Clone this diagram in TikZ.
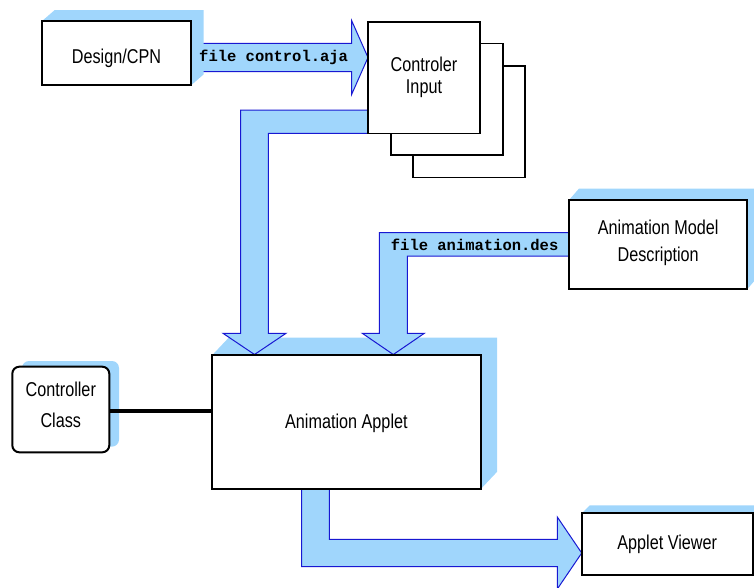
\documentclass[tikz,border=0pt]{standalone}
\usepackage{fontspec}
\setmainfont{Liberation Sans}[FakeStretch=0.81]
\newfontfamily\codefont{Liberation Mono}
\usetikzlibrary{calc}
\definecolor{flowfill}{RGB}{160,214,252}
\definecolor{flowline}{RGB}{24,24,210}
\pgfdeclarelayer{shadelayer}
\pgfdeclarelayer{flowlayer}
\pgfsetlayers{shadelayer,flowlayer,main}
\tikzset{
  box/.style={draw=black, line width=2pt, fill=white, inner sep=0pt, outer sep=0pt,
              align=center, font=\fontsize{20}{24}\selectfont},
  stackbox/.style={box, line width=1.6pt, minimum width=112, minimum height=111.6},
  blockarrow/.style={fill=flowfill, draw=flowline, line width=1pt, line join=miter},
  shade/.style={fill=flowfill},
  filelabel/.style={font=\codefont\bfseries\fontsize{15.5}{18}\selectfont, inner sep=0pt}
}
% 3D extrusion behind a box: node name, dx, dy (upwards)
\newcommand\extrudebox[3]{%
  \fill[shade] (#1.north west) -- ($(#1.north west)+(#2,-#3)$)
    -- ($(#1.north east)+(#2,-#3)$) -- ($(#1.south east)+(#2,-#3)$)
    -- (#1.south east) -- cycle;}
% text shifted vertically by #1 while keeping its size
\newcommand\shiftby[2]{\raisebox{#1}[\height][\depth]{#2}}
% two centred lines, shifted by #1
\newcommand\twolines[3]{\shiftby{#1}{\begin{tabular}{@{}c@{}}#2\\#3\end{tabular}}}
\begin{document}
\begin{tikzpicture}[x=1pt,y=-1pt]
\useasboundingbox (0,0) rectangle (754,587);

% boxes
\node[box, minimum width=149, minimum height=64.3] (design) at (116.5,53.2) {\shiftby{-5pt}{Design/CPN}};
\node[stackbox] (ctlC) at (468.7,121.8) {};
\node[stackbox] (ctlB) at (446.7,99.2) {};
\node[stackbox, font=\fontsize{20}{22}\selectfont] (ctlA) at (424,77.5) {\twolines{-1pt}{Controler}{Input}};
\node[box, minimum width=178.3, minimum height=89, font=\fontsize{20}{27}\selectfont]
  (model) at (658.2,244.5) {\twolines{2pt}{Animation Model}{Description}};
\node[box, minimum width=268.2, minimum height=134.3] (applet) at (346.4,422.2) {\shiftby{-1pt}{Animation Applet}};
\node[box, minimum width=171, minimum height=61.7] (viewer) at (667.2,544.2) {Applet Viewer};
\node[box, rounded corners=7pt, minimum width=97, minimum height=85.6,
      font=\fontsize{20}{31}\selectfont] (ctrlclass) at (60.8,409.5) {\twolines{4pt}{Controller}{Class}};

% link between controller class and applet
\coordinate (lk) at (0,411);
\draw[line width=3.5pt] (ctrlclass.east |- lk) -- (applet.west |- lk);

\begin{pgfonlayer}{shadelayer}
  % file control.aja flow, partly hidden by the Design/CPN extrusion
  \draw[blockarrow] (195,43.3) -- (351.7,43.3) -- (351.7,20.7) -- (ctlA.west |- 0,57.5)
    -- (351.7,94.3) -- (351.7,71.7) -- (195,71.7) -- cycle;
  \extrudebox{design}{12.7}{11}
  \extrudebox{model}{10}{11.5}
  \extrudebox{applet}{16.5}{17.5}
  \extrudebox{viewer}{8}{8}
  \fill[shade, rounded corners=7pt] ($(ctrlclass.north west)+(9.7,-5.7)$)
    rectangle ($(ctrlclass.south east)+(9.7,-5.7)$);
\end{pgfonlayer}

\begin{pgfonlayer}{flowlayer}
  % controller input to applet
  \draw[blockarrow] (380,110) -- (240.7,110) -- (240.7,333.3) -- (223,333.3)
    -- (254.5,354.5) -- (286,333.3) -- (268.3,333.3) -- (268.3,133.3) -- (380,133.3) -- cycle;
  % animation model description to applet
  \draw[blockarrow] (575,232.7) -- (379.3,232.7) -- (379.3,333.3) -- (362.3,333.3)
    -- (393.3,354.5) -- (424.3,333.3) -- (407.3,333.3) -- (407.3,256) -- (575,256) -- cycle;
  % applet to viewer
  \draw[blockarrow] (301.7,480) -- (301.7,566.7) -- (557.3,566.7) -- (557.3,589)
    -- (viewer.west |- 0,553) -- (557.3,517) -- (557.3,539.3) -- (329.3,539.3) -- (329.3,480) -- cycle;
\end{pgfonlayer}

% file names on the flows
\node[filelabel, anchor=base west] (lblaja) at (199,61.7) {file control.aja};
\node[filelabel, anchor=base west] (lbldes) at (390.7,250) {file animation.des};
\end{tikzpicture}
\end{document}
